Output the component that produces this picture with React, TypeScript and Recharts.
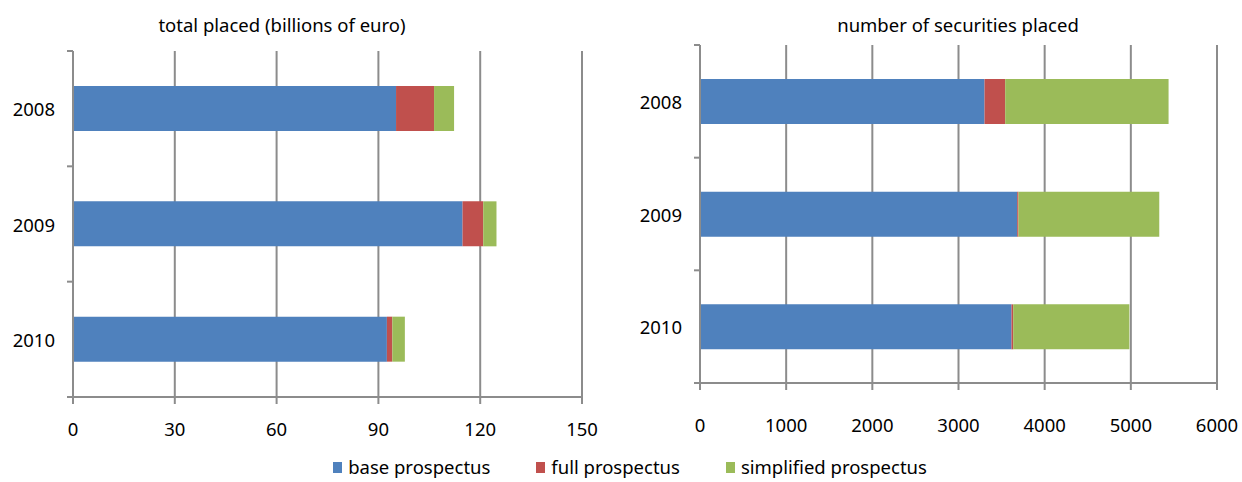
import React from "react";
import {
  BarChart,
  Bar,
  XAxis,
  YAxis,
  CartesianGrid,
} from "recharts";

// values
const years = ["2008", "2009", "2010"];
const series = ["base prospectus", "full prospectus", "simplified prospectus"];
const colors = ["#4F81BD", "#C0504D", "#9BBB59"];

const placedBase = [95.2, 114.8, 92.5];
const placedFull = [11.2, 6.1, 1.6];
const placedSimplified = [5.9, 3.9, 3.7];
const placedTicks = [0, 30, 60, 90, 120, 150];

const securitiesBase = [3302, 3681, 3615];
const securitiesFull = [240, 15, 20];
const securitiesSimplified = [1896, 1634, 1348];
const securitiesTicks = [0, 1000, 2000, 3000, 4000, 5000, 6000];

const placedData = years.map((year, i) => ({
  year,
  base: placedBase[i],
  full: placedFull[i],
  simplified: placedSimplified[i],
}));

const securitiesData = years.map((year, i) => ({
  year,
  base: securitiesBase[i],
  full: securitiesFull[i],
  simplified: securitiesSimplified[i],
}));

const keys = ["base", "full", "simplified"];
const GREY = "#8C8C8C";
const FONT = 18.5;

// category tick: label at band centre, small tick marks at band edges (Excel style)
function YearTick(props: any) {
  const { x, y, payload, index, visibleTicksCount } = props;
  const ax = x + 18;
  const off = payload?.offset ?? 0;
  return (
    <g>
      <line x1={ax - 6} x2={ax} y1={y - off} y2={y - off} stroke={GREY} strokeWidth={2} />
      {index === visibleTicksCount - 1 && (
        <line x1={ax - 6} x2={ax} y1={y + off} y2={y + off} stroke={GREY} strokeWidth={2} />
      )}
      <text x={x} y={y} textAnchor="end" dominantBaseline="central" fontSize={FONT} fill="#000">
        {payload.value}
      </text>
    </g>
  );
}

function StackedPanel({
  data,
  ticks,
  width,
  margin,
  yWidth,
  tickMargin,
}: {
  data: any[];
  ticks: number[];
  width: number;
  margin: any;
  yWidth: number;
  tickMargin: number;
}) {
  return (
    <BarChart width={width} height={440} data={data} layout="vertical" margin={margin}>
      <CartesianGrid horizontal={false} stroke={GREY} strokeWidth={2} />
      <XAxis
        type="number"
        domain={[ticks[0], ticks[ticks.length - 1]]}
        ticks={ticks}
        interval={0}
        height={40}
        tickSize={7}
        tickMargin={tickMargin}
        axisLine={{ stroke: GREY, strokeWidth: 2 }}
        tickLine={{ stroke: GREY, strokeWidth: 2 }}
        tick={{ fontSize: FONT, fill: "#000" }}
      />
      <YAxis
        type="category"
        dataKey="year"
        width={yWidth}
        tickSize={6}
        tickMargin={12}
        tickLine={false}
        axisLine={{ stroke: GREY, strokeWidth: 2 }}
        tick={<YearTick />}
      />
      {keys.map((k, i) => (
        <Bar
          key={k}
          dataKey={k}
          name={series[i]}
          stackId="a"
          fill={colors[i]}
          barSize={45}
          isAnimationActive={false}
        />
      ))}
    </BarChart>
  );
}

export default function App() {
  const title = {
    position: "absolute" as const,
    top: 12,
    width: 400,
    height: 26,
    lineHeight: "26px",
    textAlign: "center" as const,
    fontSize: FONT,
  };
  return (
    <div
      style={{
        position: "absolute",
        left: 0,
        top: 0,
        width: 1242,
        height: 482,
        overflow: "hidden",
        background: "#fff",
        fontFamily: '"Noto Sans", sans-serif',
        color: "#000",
      }}
    >
      <div style={{ ...title, left: 282 - 200 }}>total placed (billions of euro)</div>
      <div style={{ ...title, left: 958 - 200 }}>number of securities placed</div>

      <div style={{ position: "absolute", left: 0, top: 0 }}>
        <StackedPanel
          data={placedData}
          ticks={placedTicks}
          width={620}
          margin={{ top: 51, right: 38, bottom: 3, left: 0 }}
          yWidth={73}
          tickMargin={19}
        />
      </div>
      <div style={{ position: "absolute", left: 620, top: 0 }}>
        <StackedPanel
          data={securitiesData}
          ticks={securitiesTicks}
          width={622}
          margin={{ top: 45, right: 25, bottom: 17, left: 0 }}
          yWidth={80}
          tickMargin={29}
        />
      </div>

      <div
        style={{
          position: "absolute",
          left: 0,
          top: 455,
          width: 1260,
          display: "flex",
          justifyContent: "center",
          gap: 46,
          fontSize: FONT,
          lineHeight: "24px",
        }}
      >
        {series.map((s, i) => (
          <div key={s} style={{ display: "flex", alignItems: "center" }}>
            <span
              style={{ display: "inline-block", width: 9, height: 11, background: colors[i], marginRight: 6 }}
            />
            <span>{s}</span>
          </div>
        ))}
      </div>
    </div>
  );
}
